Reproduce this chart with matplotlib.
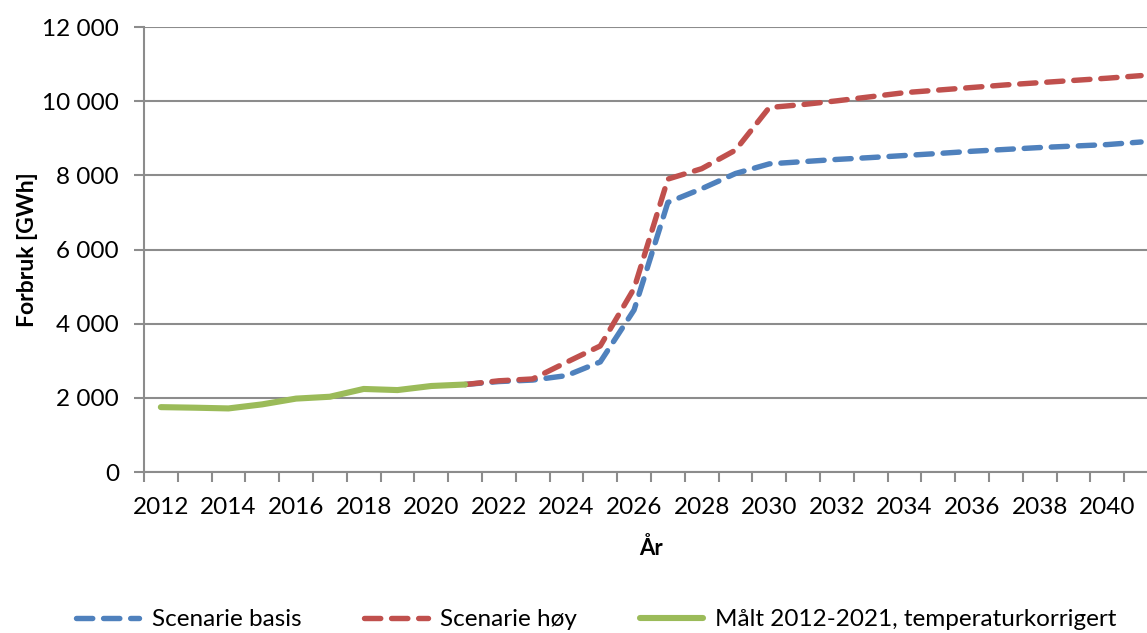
import numpy as np
import matplotlib.pyplot as plt

plt.rcParams['font.family'] = ['Lato', 'DejaVu Sans']

years = list(range(2012, 2042))

# målt forbruk 2012-2021 (GWh)
maalt = [1750, 1735, 1715, 1825, 1980, 2030, 2240, 2210, 2320, 2360]

# scenarier 2021-2041
scen_years = list(range(2021, 2042))
basis = [2360, 2440, 2480, 2600, 2970, 4370, 7270, 7640, 8050, 8310, 8370, 8430,
         8480, 8535, 8590, 8650, 8700, 8750, 8790, 8830, 8900]
hoy = [2360, 2460, 2510, 2960, 3400, 4950, 7900, 8180, 8680, 9830, 9910, 10010,
       10120, 10230, 10300, 10370, 10440, 10500, 10560, 10620, 10690]

blue = '#4F81BD'
red = '#C0504D'
green = '#9BBB59'
grey = '#8C8C8C'

fig = plt.figure(figsize=(11.47, 6.33), dpi=100)
ax = fig.add_axes([0.1255, 0.2543, 0.8841, 0.7030])

xb = [years.index(y) for y in scen_years]
xm = list(range(len(maalt)))

ax.plot(xb, basis, color=blue, lw=3.9, ls=(0, (3.0, 2.0)), dash_capstyle='round',
        label='Scenarie basis', zorder=3)
ax.plot(xb, hoy, color=red, lw=3.9, ls=(0, (3.0, 2.0)), dash_capstyle='round',
        label='Scenarie høy', zorder=3)
ax.plot(xm, maalt, color=green, lw=4.4, solid_capstyle='round',
        label='Målt 2012-2021, temperaturkorrigert', zorder=4)

ax.set_xlim(-0.5, len(years) - 0.5)
ax.set_ylim(0, 12000)

yt = np.arange(0, 12001, 2000)
ax.set_yticks(yt)
ax.set_yticklabels([f'{v:,}'.replace(',', ' ') for v in yt])
ax.yaxis.grid(True, color=grey, lw=1.5)
ax.set_axisbelow(True)

ax.set_xticks(range(0, len(years), 2))
ax.set_xticklabels([str(y) for y in years[::2]])
ax.set_xticks(np.arange(-0.5, len(years), 1), minor=True)
ax.tick_params(axis='x', which='major', length=0, pad=18, labelsize=17.5)
ax.tick_params(axis='x', which='minor', length=7, width=1.5, color=grey)
ax.tick_params(axis='y', length=7, width=1.5, color=grey, labelsize=17.5, pad=11)

for s in ['top', 'right']:
    ax.spines[s].set_visible(False)
for s in ['left', 'bottom']:
    ax.spines[s].set_color(grey)
    ax.spines[s].set_linewidth(1.5)

ax.set_xlabel('År', fontsize=16, fontweight='bold', labelpad=14)
ax.set_ylabel('Forbruk [GWh]', fontsize=16.5, fontweight='bold')
ax.yaxis.set_label_coords(-0.104, 0.5)

fig.legend(loc='lower center', bbox_to_anchor=(0.52, -0.03), ncol=3, frameon=False,
           fontsize=17.5, handlelength=2.6, columnspacing=2.6, handletextpad=0.5)

fig.savefig('out.png', dpi=100)
